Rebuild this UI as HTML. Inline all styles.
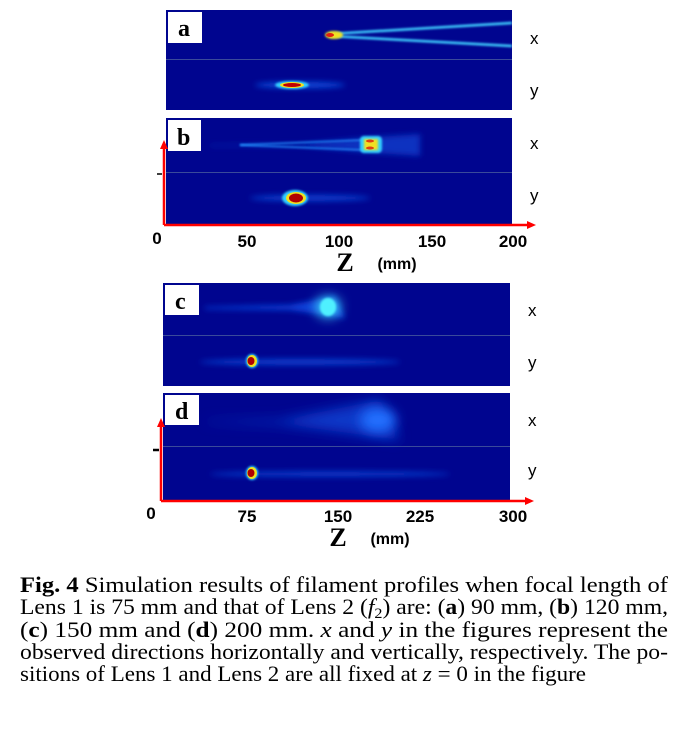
<!DOCTYPE html>
<html><head><meta charset="utf-8"><style>
html,body{margin:0;padding:0;background:#fff;width:688px;height:735px;overflow:hidden}
.cap{font-family:"Liberation Serif","Times New Roman",serif;}
</style></head><body>
<svg width="688" height="735" viewBox="0 0 688 735" xmlns="http://www.w3.org/2000/svg">
<defs>
<filter id="b1" x="-50%" y="-300%" width="200%" height="700%"><feGaussianBlur stdDeviation="1"/></filter>
<filter id="b2" x="-50%" y="-300%" width="200%" height="700%"><feGaussianBlur stdDeviation="3"/></filter>
<filter id="b3" x="-50%" y="-100%" width="200%" height="300%"><feGaussianBlur stdDeviation="6"/></filter>
<clipPath id="ca"><rect x="166" y="10" width="346" height="100"/></clipPath>
<clipPath id="cb"><rect x="166" y="118" width="346" height="106"/></clipPath>
<clipPath id="cc"><rect x="163" y="283" width="347" height="103"/></clipPath>
<clipPath id="cd"><rect x="163" y="393" width="347" height="107"/></clipPath>
</defs>
<g fill="#00058f">
<rect x="166" y="10" width="346" height="100"/>
<rect x="166" y="118" width="346" height="106"/>
<rect x="163" y="283" width="347" height="103"/>
<rect x="163" y="393" width="347" height="107"/>
</g>
<g stroke="#3a4a9a" stroke-width="1">
<line x1="166" y1="59.5" x2="512" y2="59.5"/><line x1="166" y1="172.5" x2="512" y2="172.5"/>
<line x1="163" y1="335.5" x2="510" y2="335.5"/><line x1="163" y1="446.5" x2="510" y2="446.5"/>
</g>
<g clip-path="url(#ca)">
<line x1="215" y1="35" x2="330" y2="35" stroke="#1040e0" stroke-width="4" filter="url(#b2)"/>
<line x1="240" y1="35" x2="320" y2="35" stroke="#30b0ff" stroke-width="1.5" filter="url(#b1)"/>
<line x1="330" y1="34" x2="512" y2="23" stroke="#40d0ff" stroke-width="2.5" filter="url(#b1)"/>
<line x1="330" y1="36" x2="512" y2="46" stroke="#40d0ff" stroke-width="2.5" filter="url(#b1)"/>
<ellipse cx="334" cy="35" rx="9" ry="4" fill="#f0e020" filter="url(#b1)"/>
<ellipse cx="330" cy="35" rx="4" ry="2" fill="#e02010"/>
<ellipse cx="300" cy="85" rx="45" ry="3" fill="#1050e0" filter="url(#b2)"/>
<ellipse cx="292" cy="85" rx="17" ry="4" fill="#30d0ff" filter="url(#b1)"/>
<ellipse cx="292" cy="85" rx="12" ry="3" fill="#f0e020"/>
<ellipse cx="292" cy="85" rx="9" ry="2" fill="#c00000"/>
</g>
<g clip-path="url(#cb)">
<polygon points="210,145 300,144 375,137 420,134 420,156 375,153 300,146 210,146" fill="#0830c0" filter="url(#b2)"/>
<line x1="240" y1="145" x2="365" y2="140" stroke="#2090ff" stroke-width="1.5" filter="url(#b1)"/>
<line x1="240" y1="145" x2="365" y2="150" stroke="#2090ff" stroke-width="1.5" filter="url(#b1)"/>
<rect x="360" y="136" width="22" height="17" rx="4" fill="#30d0ff" filter="url(#b1)"/>
<rect x="364" y="139" width="14" height="11" fill="#f0e020" filter="url(#b1)"/>
<ellipse cx="370" cy="141" rx="4" ry="1.5" fill="#e04010"/>
<ellipse cx="370" cy="148" rx="4" ry="1.5" fill="#e04010"/>
<ellipse cx="310" cy="198" rx="60" ry="3" fill="#0840d0" filter="url(#b2)"/>
<ellipse cx="295" cy="198" rx="13" ry="8" fill="#30d0ff" filter="url(#b1)"/>
<ellipse cx="296" cy="198" rx="10" ry="6" fill="#f0e020"/>
<ellipse cx="296" cy="198" rx="7" ry="4.5" fill="#b00000"/>
</g>
<g clip-path="url(#cc)">
<polygon points="205,307 290,305 335,296 345,318 290,310 205,309" fill="#0a40d8" filter="url(#b2)"/>
<ellipse cx="328" cy="307" rx="12" ry="10" fill="#40e0ff" filter="url(#b3)"/>
<ellipse cx="328" cy="307" rx="8" ry="9" fill="#50f0ff" filter="url(#b1)"/>
<ellipse cx="300" cy="362" rx="100" ry="3" fill="#0840d0" filter="url(#b2)"/>
<ellipse cx="252" cy="361" rx="6" ry="7" fill="#30d0ff" filter="url(#b1)"/>
<ellipse cx="252" cy="361" rx="5" ry="6" fill="#f0e020"/>
<ellipse cx="251" cy="361" rx="3.5" ry="4" fill="#b00000"/>
</g>
<g clip-path="url(#cd)">
<polygon points="205,421 280,420 380,400 400,440 280,424 205,422" fill="#0838c8" filter="url(#b3)"/>
<ellipse cx="378" cy="420" rx="18" ry="12" fill="#2070ff" filter="url(#b3)"/>
<ellipse cx="330" cy="474" rx="120" ry="2.5" fill="#0840d0" filter="url(#b2)"/>
<ellipse cx="252" cy="473" rx="6" ry="7" fill="#30d0ff" filter="url(#b1)"/>
<ellipse cx="252" cy="473" rx="5" ry="6" fill="#f0e020"/>
<ellipse cx="251" cy="473" rx="3.5" ry="4" fill="#b00000"/>
</g>
<g fill="#fff"><rect x="168" y="12" width="34" height="31"/><rect x="168" y="120" width="33" height="31"/><rect x="165" y="285" width="34" height="30"/><rect x="165" y="395" width="34" height="30"/></g>
<g class="cap" font-weight="bold" font-size="24" fill="#000">
<text x="178" y="36">a</text><text x="177" y="145">b</text><text x="175" y="309">c</text><text x="175" y="419">d</text></g>
<g font-family="'Liberation Sans', sans-serif" font-size="17" fill="#000">
<text x="530" y="44">x</text><text x="530" y="96">y</text><text x="530" y="149">x</text><text x="530" y="201">y</text>
<text x="528" y="316">x</text><text x="528" y="368">y</text><text x="528" y="426">x</text><text x="528" y="476">y</text></g>
<g stroke="#ff0000" stroke-width="2.5" fill="none">
<line x1="164" y1="147" x2="164" y2="225"/><line x1="164" y1="225" x2="530" y2="225"/>
<line x1="161" y1="425" x2="161" y2="501"/><line x1="161" y1="501" x2="528" y2="501"/></g>
<g fill="#ff0000"><polygon points="164,140 160,149 168,149"/><polygon points="536,225 527,221 527,229"/>
<polygon points="161,418 157,427 165,427"/><polygon points="534,501 525,497 525,505"/></g>
<line x1="157" y1="174" x2="162" y2="174" stroke="#000" stroke-width="1.5"/>
<line x1="153" y1="450" x2="159" y2="450" stroke="#000" stroke-width="2.5"/>
<g font-family="'Liberation Sans', sans-serif" font-weight="bold" font-size="17" fill="#000" text-anchor="middle">
<text x="157" y="244">0</text><text x="247" y="247">50</text><text x="339" y="247">100</text><text x="432" y="247">150</text><text x="513" y="247">200</text>
<text x="151" y="519">0</text><text x="247" y="522">75</text><text x="338" y="522">150</text><text x="420" y="522">225</text><text x="513" y="522">300</text>
<text x="397" y="269" font-size="16">(mm)</text><text x="390" y="544" font-size="16">(mm)</text></g>
<g class="cap" font-weight="bold" font-size="26" fill="#000" text-anchor="middle">
<text x="345" y="271">Z</text><text x="338" y="546">Z</text></g>
<g class="cap" font-size="22" fill="#000">
<text x="20" y="592" textLength="648" lengthAdjust="spacingAndGlyphs"><tspan font-weight="bold">Fig. 4</tspan>  Simulation results of filament profiles when focal length of</text>
<text x="20" y="614" textLength="648" lengthAdjust="spacingAndGlyphs">Lens 1 is 75 mm and that of Lens 2 (<tspan font-style="italic">f</tspan><tspan font-size="15" dy="4">2</tspan><tspan dy="-4">) are: (</tspan><tspan font-weight="bold">a</tspan>) 90 mm, (<tspan font-weight="bold">b</tspan>) 120 mm,</text>
<text x="20" y="637" textLength="648" lengthAdjust="spacingAndGlyphs">(<tspan font-weight="bold">c</tspan>) 150 mm and (<tspan font-weight="bold">d</tspan>) 200 mm. <tspan font-style="italic">x</tspan> and <tspan font-style="italic">y</tspan> in the figures represent the</text>
<text x="20" y="659" textLength="648" lengthAdjust="spacingAndGlyphs">observed directions horizontally and vertically, respectively. The po-</text>
<text x="20" y="681" textLength="566" lengthAdjust="spacingAndGlyphs">sitions of Lens 1 and Lens 2 are all fixed at <tspan font-style="italic">z</tspan> = 0 in the figure</text>
</g>
</svg>
</body></html>
